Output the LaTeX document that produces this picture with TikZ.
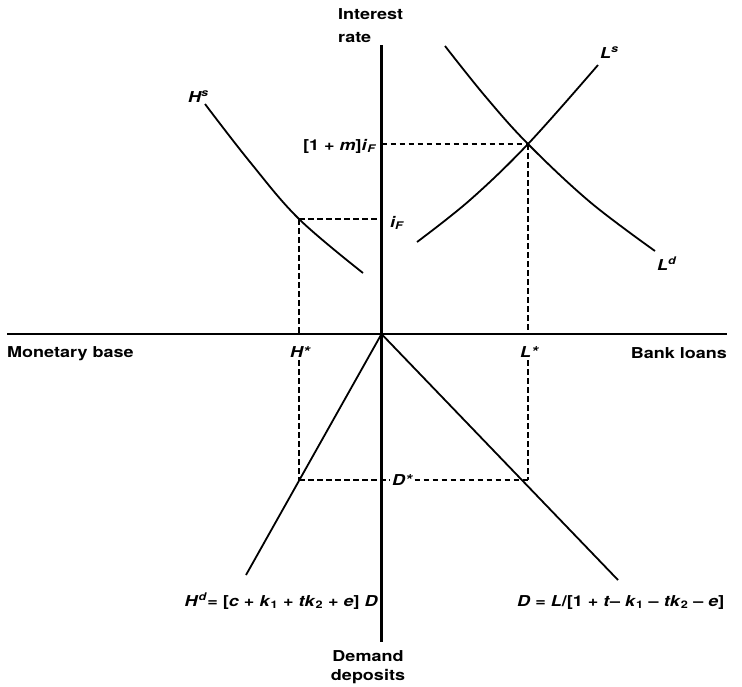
\documentclass[tikz,border=0pt]{standalone}
\usepackage{fontspec}
\setmainfont{TeX Gyre Heros}[FakeStretch=1.2]
\begin{document}
\begin{tikzpicture}[x=1pt,y=-1pt,
  lbl/.style={font=\fontsize{15}{18}\selectfont\bfseries, inner sep=0pt},
  mlbl/.style={font=\fontsize{15}{18}\selectfont\bfseries\itshape, inner sep=0pt},
  axisline/.style={line width=2.2pt},
  curveline/.style={line width=1.8pt},
  guide/.style={line width=1.8pt, dash pattern=on 5.5pt off 3.5pt}]
\useasboundingbox (0,0) rectangle (742,686);

% axes
\coordinate (O) at (381.5,334);
\coordinate (ytop) at (381.5,45);
\coordinate (ybot) at (381.5,642);
\coordinate (xl) at (7,334);
\coordinate (xr) at (727,334);
\draw[axisline] (ytop) -- (ybot);
\draw[axisline] (xl) -- (xr);

% key points
\coordinate (A) at (299,219);
\coordinate (B) at (528,144);
\coordinate (C) at (299,480);
\coordinate (E) at (528,480);
\coordinate (iF) at (381.5,219);
\coordinate (mi) at (381.5,144);
\coordinate (Hax) at (299,334);
\coordinate (Lax) at (528,334);
\coordinate (Hend) at (246,575);
\coordinate (Dend) at (618,580);

% curves
\draw[curveline] plot[smooth, tension=0.6] coordinates {(205,104) (250,162) (299,219) (363,273)};
\draw[curveline] plot[smooth, tension=0.6] coordinates {(445,46) (485,96) (528,144) (590,202) (655,251)};
\draw[curveline] plot[smooth, tension=0.6] coordinates {(417,242) (470,200) (528,144) (598,65)};

% lines in lower quadrants
\draw[curveline] (O) -- (Hend);
\draw[curveline] (O) -- (Dend);

% labels
\node[lbl, anchor=base west] (tInterest) at (338,19.5) {Interest};
\node[lbl, anchor=base west] (tRate) at (338,42.5) {rate};
\node[lbl, anchor=base] (tDemand) at (368,661) {Demand};
\node[lbl, anchor=base] (tDeposits) at (368,680) {deposits};
\node[lbl, anchor=base west] (tMon) at (7,357) {Monetary base};
\node[lbl, anchor=base east] (tBank) at (727,358) {Bank loans};

\node[mlbl, anchor=base] (tHstar) at (300,357) {H*};
\node[mlbl, anchor=base] (tLstar) at (529,357) {L*};
\node[mlbl, anchor=center, inner sep=2.5pt] (tDstar) at (402,480) {D*};
\node[mlbl, anchor=base west] (tiF) at (390,227) {i\textsubscript{F}};
\node[lbl, anchor=base east] (tmiF) at (377,150) {[1 + \textit{m}]\textit{i}\textsubscript{\textit{F}}};
\node[mlbl, anchor=base west] (tHs) at (188,102) {H\textsuperscript{s}};
\node[mlbl, anchor=base west] (tLs) at (600,58) {L\textsuperscript{s}};
\node[mlbl, anchor=base west] (tLd) at (657,270) {L\textsuperscript{d}};
\node[lbl, anchor=base east] (tHd) at (378,606) {\textit{H}\textsuperscript{\textit{d}}= [\textit{c} + \textit{k}\textsubscript{1} + \textit{tk}\textsubscript{2} + \textit{e}] \textit{D}};
\node[lbl, anchor=base west] (tDeq) at (517,606) {\textit{D} = \textit{L}/[1 + \textit{t}\textendash\ \textit{k}\textsubscript{1} \textendash\ \textit{tk}\textsubscript{2} \textendash\ \textit{e}]};

% dashed guides
\draw[guide] (A) -- (iF);
\draw[guide] (A) -- (Hax);
\draw[guide, shorten <=3pt] (C |- tHstar.south) -- (C);
\draw[guide] (mi) -- (B);
\draw[guide] (B) -- (Lax);
\draw[guide, shorten <=3pt] (E |- tLstar.south) -- (E);
\draw[guide] (C) -- (C -| tDstar.west);
\draw[guide] (E -| tDstar.east) -- (E);
\end{tikzpicture}
\end{document}
